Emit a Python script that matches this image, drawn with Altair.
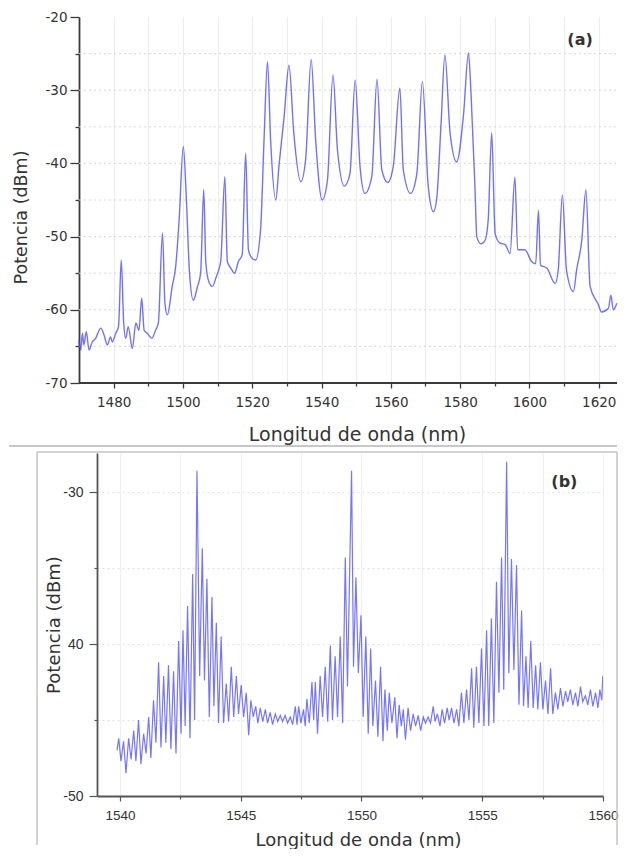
import altair as alt
import pandas as pd

# ---------------- Panel (a): broadband spectrum ----------------
wl_a = [1470.0, 1470.5, 1471.0, 1471.4, 1472.1, 1472.9, 1473.8, 1474.8, 1476.3, 1477.2,
        1478.2, 1479.1, 1479.6, 1480.6, 1481.4, 1482.2, 1482.9, 1483.5, 1484.2, 1485.4,
        1486.4, 1487.3, 1488.1, 1488.8, 1489.7, 1491.0, 1492.1, 1492.9, 1494.1, 1494.8,
        1495.5, 1496.9, 1497.9, 1498.9, 1500.1, 1501.0, 1501.9, 1503.0, 1504.2, 1505.1,
        1506.0, 1506.6, 1507.5, 1508.5, 1509.6, 1510.9, 1512.1, 1512.8, 1513.8, 1514.9,
        1516.0, 1517.1, 1518.1, 1518.9, 1520.0, 1521.0, 1522.4, 1523.4, 1524.4, 1525.3,
        1526.8, 1527.7, 1529.2, 1530.6, 1532.0, 1534.0, 1535.4, 1537.0, 1538.3, 1540.2,
        1541.7, 1543.3, 1544.6, 1546.6, 1548.2, 1549.7, 1551.1, 1552.5, 1554.5, 1556.0,
        1557.4, 1559.1, 1560.7, 1562.6, 1563.6, 1565.7, 1567.5, 1569.1, 1570.8, 1572.3,
        1573.2, 1574.5, 1575.6, 1577.1, 1579.0, 1581.0, 1582.4, 1583.1, 1584.3, 1584.8,
        1586.0, 1587.2, 1588.1, 1589.1, 1590.1, 1591.5, 1593.0, 1594.4, 1595.8, 1596.6,
        1598.7, 1600.6, 1601.8, 1602.6, 1603.2, 1605.0, 1607.4, 1608.3, 1609.5, 1610.7,
        1612.7, 1613.6, 1615.1, 1616.3, 1617.5, 1619.9, 1620.8, 1622.8, 1623.5, 1624.2,
        1625.2]
p_a = [-64.1, -65.5, -63.2, -64.8, -63.0, -65.5, -64.4, -63.9, -62.5, -63.4,
       -64.8, -63.7, -64.4, -63.2, -62.3, -53.2, -61.8, -63.9, -62.3, -65.3,
       -61.8, -62.8, -58.4, -62.8, -63.2, -63.9, -62.8, -61.8, -49.5, -59.1,
       -60.7, -56.8, -54.1, -47.7, -37.7, -45.0, -55.0, -58.7, -56.8, -55.0,
       -43.6, -53.6, -56.2, -56.8, -55.5, -53.4, -41.8, -53.4, -54.3, -55.0,
       -53.4, -52.5, -38.6, -51.8, -53.0, -53.2, -49.1, -36.8, -26.1, -36.8,
       -45.0, -40.4, -33.6, -26.6, -35.9, -42.5, -39.5, -25.8, -36.8, -45.0,
       -42.3, -27.9, -38.2, -43.1, -41.4, -28.6, -40.4, -44.1, -41.8, -28.5,
       -40.9, -42.6, -40.4, -29.7, -40.9, -44.1, -41.4, -28.8, -43.2, -46.6,
       -45.0, -34.5, -25.2, -35.9, -39.8, -33.2, -24.9, -30.0, -43.6, -50.0,
       -51.0, -50.5, -47.7, -35.8, -49.6, -50.9, -51.1, -52.3, -41.9, -51.8,
       -51.8, -53.4, -53.7, -46.4, -53.9, -54.3, -56.4, -54.6, -44.3, -54.6,
       -57.5, -54.6, -50.5, -43.6, -56.8, -59.3, -60.3, -59.8, -58.0, -60.0,
       -59.1]

# ---------------- Panel (b): fringe spectrum ----------------
wl_b = [1539.88, 1539.95, 1540.04, 1540.15, 1540.25, 1540.36, 1540.46, 1540.57, 1540.66, 1540.77,
        1540.87, 1540.98, 1541.08, 1541.19, 1541.28, 1541.39, 1541.49, 1541.60, 1541.70, 1541.81,
        1541.90, 1542.01, 1542.11, 1542.22, 1542.32, 1542.43, 1542.53, 1542.61, 1542.70, 1542.80,
        1542.90, 1543.01, 1543.09, 1543.19, 1543.30, 1543.41, 1543.50, 1543.60, 1543.70, 1543.81,
        1543.89, 1543.99, 1544.08, 1544.19, 1544.29, 1544.40, 1544.50, 1544.61, 1544.71, 1544.82,
        1544.91, 1545.02, 1545.12, 1545.23, 1545.33, 1545.42, 1545.52, 1545.62, 1545.71, 1545.81,
        1545.91, 1546.02, 1546.11, 1546.22, 1546.32, 1546.43, 1546.53, 1546.64, 1546.73, 1546.84,
        1546.94, 1547.05, 1547.15, 1547.26, 1547.33, 1547.40, 1547.49, 1547.60, 1547.67, 1547.74,
        1547.84, 1547.95, 1548.02, 1548.09, 1548.18, 1548.29, 1548.39, 1548.50, 1548.60, 1548.71,
        1548.80, 1548.91, 1549.01, 1549.12, 1549.22, 1549.33, 1549.42, 1549.59, 1549.67, 1549.77,
        1549.87, 1549.98, 1550.07, 1550.18, 1550.28, 1550.38, 1550.47, 1550.58, 1550.68, 1550.79,
        1550.89, 1550.97, 1551.07, 1551.15, 1551.26, 1551.38, 1551.47, 1551.56, 1551.65, 1551.73,
        1551.82, 1551.93, 1552.03, 1552.14, 1552.24, 1552.35, 1552.45, 1552.56, 1552.65, 1552.76,
        1552.86, 1552.97, 1553.05, 1553.14, 1553.25, 1553.34, 1553.44, 1553.55, 1553.63, 1553.73,
        1553.83, 1553.94, 1554.03, 1554.14, 1554.24, 1554.35, 1554.45, 1554.56, 1554.65, 1554.76,
        1554.86, 1554.97, 1555.07, 1555.18, 1555.27, 1555.38, 1555.48, 1555.59, 1555.69, 1555.80,
        1555.89, 1556.01, 1556.10, 1556.21, 1556.31, 1556.42, 1556.52, 1556.63, 1556.71, 1556.81,
        1556.90, 1557.01, 1557.11, 1557.21, 1557.30, 1557.41, 1557.51, 1557.62, 1557.72, 1557.83,
        1557.92, 1558.03, 1558.13, 1558.24, 1558.34, 1558.45, 1558.54, 1558.65, 1558.75, 1558.86,
        1558.96, 1559.07, 1559.16, 1559.27, 1559.37, 1559.48, 1559.58, 1559.69, 1559.79, 1559.87,
        1559.95, 1559.99]
p_b = [-47.0, -46.2, -47.7, -46.4, -48.5, -46.2, -47.6, -45.7, -47.7, -45.0,
       -47.9, -45.9, -47.2, -44.8, -47.5, -43.7, -46.5, -41.2, -46.8, -42.1,
       -46.5, -41.4, -46.9, -41.8, -47.2, -39.8, -45.9, -39.1, -45.4, -37.5,
       -46.2, -35.4, -45.0, -28.6, -42.1, -33.7, -42.4, -35.7, -44.8, -36.9,
       -44.1, -38.6, -45.2, -39.5, -45.2, -42.6, -45.1, -41.5, -44.8, -42.1,
       -44.6, -42.7, -44.8, -43.2, -46.0, -43.7, -44.8, -44.1, -45.2, -44.2,
       -45.1, -44.3, -45.2, -44.5, -45.3, -44.6, -45.1, -44.7, -45.1, -44.7,
       -45.2, -44.8, -45.3, -44.1, -45.3, -44.1, -45.2, -44.3, -45.4, -43.6,
       -45.2, -42.5, -45.0, -42.5, -45.9, -42.1, -44.8, -41.5, -45.1, -40.1,
       -45.0, -40.8, -44.8, -39.5, -45.2, -34.3, -42.8, -28.6, -41.5, -35.6,
       -41.9, -38.1, -44.8, -39.5, -45.9, -40.3, -45.4, -42.4, -46.1, -41.5,
       -46.4, -43.0, -45.7, -43.2, -45.2, -43.5, -46.2, -44.0, -45.4, -44.3,
       -46.3, -44.2, -45.7, -44.6, -45.4, -44.7, -45.7, -44.8, -45.2, -44.8,
       -45.2, -44.1, -45.1, -44.6, -45.4, -44.3, -45.2, -44.2, -45.0, -44.2,
       -45.2, -44.3, -45.4, -43.2, -45.2, -43.0, -45.0, -41.6, -45.5, -41.5,
       -45.2, -40.3, -45.4, -39.1, -45.4, -38.3, -45.2, -35.9, -43.2, -34.3,
       -43.0, -28.0, -41.9, -34.4, -41.7, -34.8, -44.0, -37.8, -44.1, -40.8,
       -44.2, -39.8, -44.2, -41.4, -44.3, -41.2, -44.3, -42.4, -44.6, -41.6,
       -44.6, -43.2, -44.3, -42.9, -44.1, -43.1, -43.8, -43.0, -44.0, -43.2,
       -44.1, -42.8, -43.8, -43.4, -44.0, -43.0, -44.1, -43.2, -44.2, -43.0,
       -43.7, -42.1]

# ticks / labels
xa_ticks = [1480, 1490, 1500, 1510, 1520, 1530, 1540, 1550, 1560, 1570, 1580, 1590, 1600, 1610, 1620]
ya_ticks = [-70, -65, -60, -55, -50, -45, -40, -35, -30, -25, -20]
xb_ticks = [1540, 1542.5, 1545, 1547.5, 1550, 1552.5, 1555, 1557.5, 1560]
yb_ticks = [-50, -45, -40, -35, -30]
yb_label_values = [-50, -40, -30]
yb_label_text = ["-50", "40", "-30"]
panel_labels = ["(a)", "(b)"]

BLUE = "#3c3cf5"
AX = "#3a3a3a"
FONT = "DejaVu Sans"

df_a = pd.DataFrame({"wl": wl_a, "p": p_a})
df_b = pd.DataFrame({"wl": wl_b, "p": p_b})
df_grid_a = pd.DataFrame({"p": ya_ticks[1:-1]})
one = pd.DataFrame({"k": [0]})

# ---------- panel (a) ----------
# plot origin shares x with panel (b); the y axis is pushed 18 px further left
OFF_A = 18
PXNM = 3.465
WA, HA = 520, 366
XA0 = 1470 + OFF_A / PXNM
xs_a = alt.Scale(domain=[XA0, XA0 + WA / PXNM], nice=False, zero=False)
ys_a = alt.Scale(domain=[-70, -20], nice=False, zero=False)

xaxis_a = alt.Axis(
    values=xa_ticks, labelExpr="datum.value % 20 == 0 ? toString(datum.value) : ''",
    labelOverlap=False, labelFlush=False, labelFont=FONT, labelFontSize=13.5, labelColor="#333",
    labelPadding=7, tickColor=AX, tickWidth=1.3,
    tickSize={"condition": {"test": "datum.value % 20 == 0", "value": 5}, "value": 3},
    domain=False,
    grid=True, gridColor="#ececec", gridWidth=1,
    title="Longitud de onda (nm)", titleFont=FONT, titleFontSize=19, titleFontWeight="normal",
    titleColor="#333", titleX=260, titleY=42.5, titleBaseline="top", titleAlign="center")
yaxis_a = alt.Axis(
    values=ya_ticks, labelExpr="datum.value % 10 == 0 ? toString(datum.value) : ''",
    labelOverlap=False, labelFlush=False, labelFont=FONT, labelFontSize=13.5, labelColor="#333",
    labelPadding=3, tickColor=AX, tickWidth=1.3, offset=OFF_A,
    tickSize={"condition": {"test": "datum.value % 10 == 0", "value": 9}, "value": 4},
    domainColor=AX, domainWidth=1.8, grid=False,
    title="Potencia (dBm)", titleFont=FONT, titleFontSize=17.5, titleFontWeight="normal",
    titleColor="#333", titleX=-49, titleY=200, titleAngle=270, titleBaseline="bottom", titleAlign="center")

grid_a = alt.Chart(df_grid_a).mark_rule(color="#d6d6d6", strokeWidth=1, strokeDash=[2, 3]).encode(
    y=alt.Y("p:Q", scale=ys_a, axis=yaxis_a), x=alt.value(-OFF_A), x2=alt.value(WA))
line_a = alt.Chart(df_a).mark_line(color=BLUE, strokeWidth=1.4, opacity=0.72, strokeJoin="round",
                                   interpolate="monotone").encode(
    x=alt.X("wl:Q", scale=xs_a, axis=xaxis_a),
    y=alt.Y("p:Q", scale=ys_a, axis=yaxis_a))
xdom_a = alt.Chart(one).mark_rule(color=AX, strokeWidth=1.8).encode(
    x=alt.value(-OFF_A), x2=alt.value(WA), y=alt.value(HA))
lab_a = alt.Chart(pd.DataFrame({"x": [1614.6], "y": [-23.1], "t": [panel_labels[0]]})).mark_text(
    font=FONT, fontSize=16, fontWeight="bold", color="#333", align="center", baseline="middle").encode(
    x=alt.X("x:Q", scale=xs_a, axis=xaxis_a), y=alt.Y("y:Q", scale=ys_a, axis=yaxis_a), text="t:N")
sep = alt.Chart(one).mark_rule(color="#c8c8c8", strokeWidth=2).encode(
    x=alt.value(-88), x2=alt.value(WA), y=alt.value(429))
panel_a = alt.layer(grid_a, line_a, xdom_a, lab_a, sep).properties(width=WA, height=HA)

# ---------- panel (b) ----------
WB, HB = 506, 343
xs_b = alt.Scale(domain=[1539.05, 1560], nice=False, zero=False)
ys_b = alt.Scale(domain=[-50, -27.43], nice=False, zero=False)
yb_expr = " : ".join(f"datum.value == {v} ? '{t}'" for v, t in zip(yb_label_values, yb_label_text)) + " : ''"

xaxis_b = alt.Axis(
    values=xb_ticks, labelExpr="datum.value % 5 == 0 ? toString(datum.value) : ''",
    labelOverlap=False, labelFlush=False, labelFont="Liberation Sans", labelFontSize=13.5, labelColor="#333",
    labelPadding=7, tickColor="#555", tickWidth=1.2,
    tickSize={"condition": {"test": "datum.value % 5 == 0", "value": 5}, "value": 3},
    domainColor="#555", domainWidth=1.8,
    grid=True, gridColor="#efefef", gridWidth=1,
    title="Longitud de onda (nm)", titleFont=FONT, titleFontSize=18, titleFontWeight="normal",
    titleColor="#333", titleX=261, titleY=35, titleBaseline="top", titleAlign="center")
yaxis_b = alt.Axis(
    values=yb_ticks, labelExpr=yb_expr,
    labelOverlap=False, labelFlush=False, labelFont="Liberation Sans", labelFontSize=14, labelColor="#333",
    labelPadding=6, tickColor="#555", tickWidth=1.2,
    tickSize={"condition": {"test": "datum.value % 10 == 0", "value": 8}, "value": 3},
    domainColor="#555", domainWidth=1.8,
    grid=True, gridColor="#e0e0e0", gridDash=[2, 3], gridWidth=1,
    title="Potencia (dBm)", titleFont=FONT, titleFontSize=18, titleFontWeight="normal",
    titleColor="#333", titleX=-34, titleY=171.5, titleAngle=270, titleBaseline="bottom", titleAlign="center")

line_b = alt.Chart(df_b).mark_line(color=BLUE, strokeWidth=1.2, opacity=0.7, clip=True).encode(
    x=alt.X("wl:Q", scale=xs_b, axis=xaxis_b),
    y=alt.Y("p:Q", scale=ys_b, axis=yaxis_b))
lab_b = alt.Chart(pd.DataFrame({"x": [1558.4], "y": [-29.34], "t": [panel_labels[1]]})).mark_text(
    font=FONT, fontSize=16, fontWeight="bold", color="#333", align="center", baseline="middle").encode(
    x=alt.X("x:Q", scale=xs_b, axis=xaxis_b), y=alt.Y("y:Q", scale=ys_b, axis=yaxis_b), text="t:N")
FR = "#c4c4c4"
fr_left = alt.Chart(one).mark_rule(color=FR, strokeWidth=1.5).encode(
    x=alt.value(-60), y=alt.value(-1), y2=alt.value(392))
fr_top = alt.Chart(one).mark_rule(color=FR, strokeWidth=1.5).encode(
    x=alt.value(-60), x2=alt.value(WA), y=alt.value(-1))
fr_right = alt.Chart(one).mark_rule(color=FR, strokeWidth=1.5).encode(
    x=alt.value(WA), y=alt.value(-1), y2=alt.value(392))
panel_b = alt.layer(line_b, lab_b, fr_left, fr_top, fr_right).properties(width=WB, height=HB)

chart = alt.vconcat(panel_a, panel_b, spacing=4).properties(
    padding={"left": 0, "top": 2, "right": 0, "bottom": 0},
    background="white",
).configure_view(stroke=None)

chart.save("out.html", embed_options={"renderer": "svg", "actions": False})
